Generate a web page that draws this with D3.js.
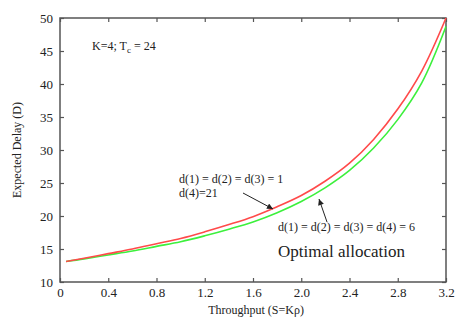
<!DOCTYPE html>
<html><head><meta charset="utf-8">
<script src="https://cdn.jsdelivr.net/npm/d3@7"></script>
<style>body{margin:0;background:#fff}svg{display:block}</style>
</head><body><svg id="c" width="455" height="320"></svg>
<script>
const throughput = [0.05,0.2,0.4,0.6,0.8,1.0,1.2,1.4,1.6,1.8,2.0,2.2,2.4,2.6,2.8,3.0,3.2];
const delayFixed = [13.1,13.6,14.3,15.0,15.8,16.6,17.6,18.7,19.9,21.4,23.1,25.3,28.0,31.6,36.2,42.0,50.0];
const delayOptimal = [13.1,13.5,14.1,14.7,15.4,16.1,17.0,18.0,19.1,20.5,22.2,24.3,26.9,30.3,34.6,40.2,48.7];
const xTicks = [0,0.4,0.8,1.2,1.6,2.0,2.4,2.8,3.2];
const xTickLabels = ["0","0.4","0.8","1.2","1.6","2.0","2.4","2.8","3.2"];
const yTicks = [10,15,20,25,30,35,40,45,50];

const FONT = "'Liberation Serif'";
const svg = d3.select("#c");
const L=60,R=446,T=18,B=282;
const x = d3.scaleLinear().domain([0,3.2]).range([L,R]);
const y = d3.scaleLinear().domain([10,50]).range([B,T]);
const axisCol="#555";

svg.append("rect").attr("x",L).attr("y",T).attr("width",R-L).attr("height",B-T)
  .attr("fill","none").attr("stroke",axisCol).attr("stroke-width",1.5);

const gB = svg.append("g").attr("transform",`translate(0,${B})`)
  .call(d3.axisBottom(x).tickValues(xTicks).tickSizeInner(-4).tickSizeOuter(0).tickPadding(6).tickFormat((d,i)=>xTickLabels[i]));
const gT = svg.append("g").attr("transform",`translate(0,${T})`)
  .call(d3.axisTop(x).tickValues(xTicks).tickSizeInner(-4).tickSizeOuter(0).tickFormat(""));
const gL = svg.append("g").attr("transform",`translate(${L},0)`)
  .call(d3.axisLeft(y).tickValues(yTicks).tickSizeInner(-4).tickSizeOuter(0).tickPadding(7));
const gR = svg.append("g").attr("transform",`translate(${R},0)`)
  .call(d3.axisRight(y).tickValues(yTicks).tickSizeInner(-4).tickSizeOuter(0).tickFormat(""));
[gB,gT,gL,gR].forEach(g=>{
  g.select(".domain").remove();
  g.selectAll("line").attr("stroke",axisCol).attr("stroke-width",1.2);
  g.selectAll("text").style("font-family",FONT).style("font-size","13px").attr("fill","#222");
});

const line = d3.line().x((d,i)=>x(throughput[i])).y(d=>y(d)).curve(d3.curveCatmullRom.alpha(0.5));
svg.append("path").datum(delayOptimal).attr("d",line).attr("fill","none").attr("stroke","#3cf03c").attr("stroke-width",1.6);
svg.append("path").datum(delayFixed).attr("d",line).attr("fill","none").attr("stroke","#ff4a4a").attr("stroke-width",1.6);

function T_(xp,yp,size,str){
  return svg.append("text").attr("x",xp).attr("y",yp).style("font-family",FONT).style("font-size",size+"px").attr("fill","#222").text(str);
}
svg.append("text").attr("transform","translate(21,150) rotate(-90)").attr("text-anchor","middle")
  .style("font-family",FONT).style("font-size","12px").attr("fill","#222").text("Expected Delay (D)");
T_(256,314,12,"Throughput (S=K\u03c1)").attr("text-anchor","middle");

const t1 = T_(92,50,12,"");
t1.append("tspan").text("K=4; T");
t1.append("tspan").style("font-size","9px").attr("dy",3).text("c");
t1.append("tspan").attr("dy",-3).text(" = 24");

T_(179,183,12,"d(1) = d(2) = d(3) = 1");
T_(179,197,12,"d(4)=21");
T_(278,231,12,"d(1) = d(2) = d(3) = d(4) = 6");
T_(278,257,17,"Optimal allocation");

const defs = svg.append("defs");
defs.append("marker").attr("id","ah").attr("viewBox","0 0 10 10").attr("refX",10).attr("refY",5)
  .attr("markerWidth",7).attr("markerHeight",6).attr("orient","auto").attr("markerUnits","userSpaceOnUse")
  .append("path").attr("d","M0,0L10,5L0,10z").attr("fill","#222");
svg.append("line").attr("x1",243).attr("y1",193).attr("x2",273).attr("y2",209)
  .attr("stroke","#222").attr("stroke-width",1).attr("marker-end","url(#ah)");
svg.append("line").attr("x1",327).attr("y1",222).attr("x2",319).attr("y2",199)
  .attr("stroke","#222").attr("stroke-width",1).attr("marker-end","url(#ah)");
</script></body></html>
